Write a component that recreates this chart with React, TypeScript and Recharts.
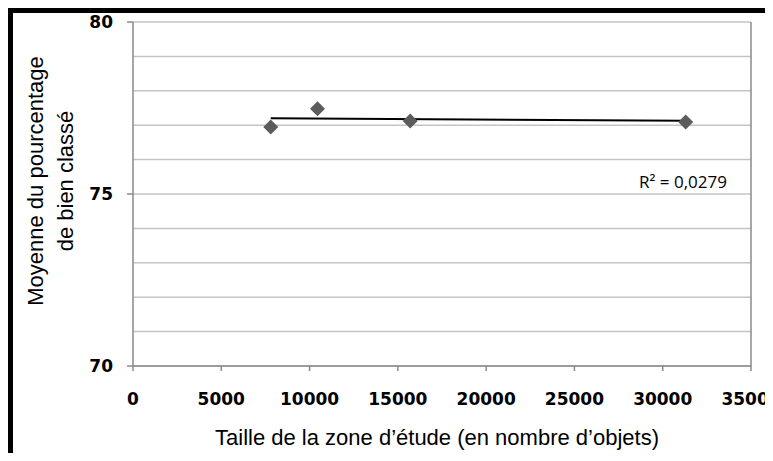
import { ComposedChart, Scatter, Line, XAxis, YAxis, CartesianGrid, ReferenceLine } from 'recharts';

// taille de la zone (objets) vs moyenne du % bien classé
const zoneSizes = [7800, 10450, 15700, 31300];
const meanScores = [76.95, 77.48, 77.12, 77.09];
// droite de tendance
const trendX = [7800, 31300];
const trendY = [77.2, 77.13];
const xTicks = [0, 5000, 10000, 15000, 20000, 25000, 30000, 35000];
const yTicks = [70, 75, 80];
const gridValues = [70, 71, 72, 73, 74, 75, 76, 77, 78, 79, 80];
const r2Label = 'R² = 0,0279';

const points = zoneSizes.map((x, i) => ({ x, y: meanScores[i] }));
const trend = trendX.map((x, i) => ({ x, y: trendY[i] }));

const Diamond = (props: any) => {
  const { cx, cy } = props;
  const r = 7.5;
  return (
    <polygon
      points={`${cx},${cy - r} ${cx + r},${cy} ${cx},${cy + r} ${cx - r},${cy}`}
      fill="#5c5c5c"
    />
  );
};

const tickStyle = { fontFamily: 'DejaVu Sans', fontWeight: 700, fontSize: 17, fill: '#000' };

export default function App() {
  return (
    <div style={{ position: 'relative', width: 773, height: 461, margin: -8, background: '#fff', overflow: 'hidden' }}>
      <ComposedChart
        width={773}
        height={461}
        margin={{ top: 22, right: 22, left: 0, bottom: 0 }}
        style={{ overflow: 'visible' }}
      >
        <CartesianGrid horizontal vertical={false} horizontalValues={gridValues} stroke="#c4c4c4" strokeWidth={1.5} />
        <XAxis
          type="number"
          dataKey="x"
          domain={[0, 35000]}
          ticks={xTicks}
          interval={0}
          height={95}
          tickSize={5}
          tickMargin={22}
          stroke="#8a8a8a"
          strokeWidth={1.5}
          fontSize={17}
          fontFamily="DejaVu Sans"
          fontWeight={700}
          tick={tickStyle}
        />
        <YAxis
          type="number"
          dataKey="y"
          domain={[70, 80]}
          ticks={yTicks}
          interval={0}
          width={133}
          tickSize={6}
          tickMargin={14}
          stroke="#8a8a8a"
          strokeWidth={1.5}
          fontSize={17}
          fontFamily="DejaVu Sans"
          fontWeight={700}
          tick={tickStyle}
        />
        <ReferenceLine x={35000} stroke="#8a8a8a" strokeWidth={1.5} />
        <Line
          data={trend}
          dataKey="y"
          type="linear"
          stroke="#000"
          strokeWidth={2}
          dot={false}
          activeDot={false}
          isAnimationActive={false}
        />
        <Scatter data={points} dataKey="y" shape={<Diamond />} isAnimationActive={false} />
      </ComposedChart>

      {/* cadre noir */}
      <div style={{ position: 'absolute', left: 7, top: 7, right: -10, bottom: 2, borderLeft: '6px solid #000', borderTop: '6px solid #000' }} />
      <div style={{ position: 'absolute', left: 0, right: 0, top: 459, height: 1, background: '#e2e2e2' }} />

      <div
        style={{
          position: 'absolute',
          left: 51,
          top: 181,
          transform: 'translate(-50%, -50%) rotate(-90deg)',
          whiteSpace: 'nowrap',
          textAlign: 'center',
          fontFamily: 'Liberation Sans',
          fontSize: 22,
          lineHeight: '30px',
          color: '#000',
        }}
      >
        Moyenne du pourcentage
        <br />
        de bien classé
      </div>
      <div
        style={{
          position: 'absolute',
          left: 437,
          top: 438,
          transform: 'translate(-50%, -50%)',
          whiteSpace: 'nowrap',
          fontFamily: 'Liberation Sans',
          fontSize: 22,
          color: '#000',
        }}
      >
        Taille de la zone d’étude (en nombre d’objets)
      </div>
      <div
        style={{
          position: 'absolute',
          left: 683,
          top: 181,
          transform: 'translate(-50%, -50%)',
          whiteSpace: 'nowrap',
          fontFamily: 'Open Sans',
          fontSize: 17,
          color: '#000',
        }}
      >
        {r2Label}
      </div>
    </div>
  );
}
